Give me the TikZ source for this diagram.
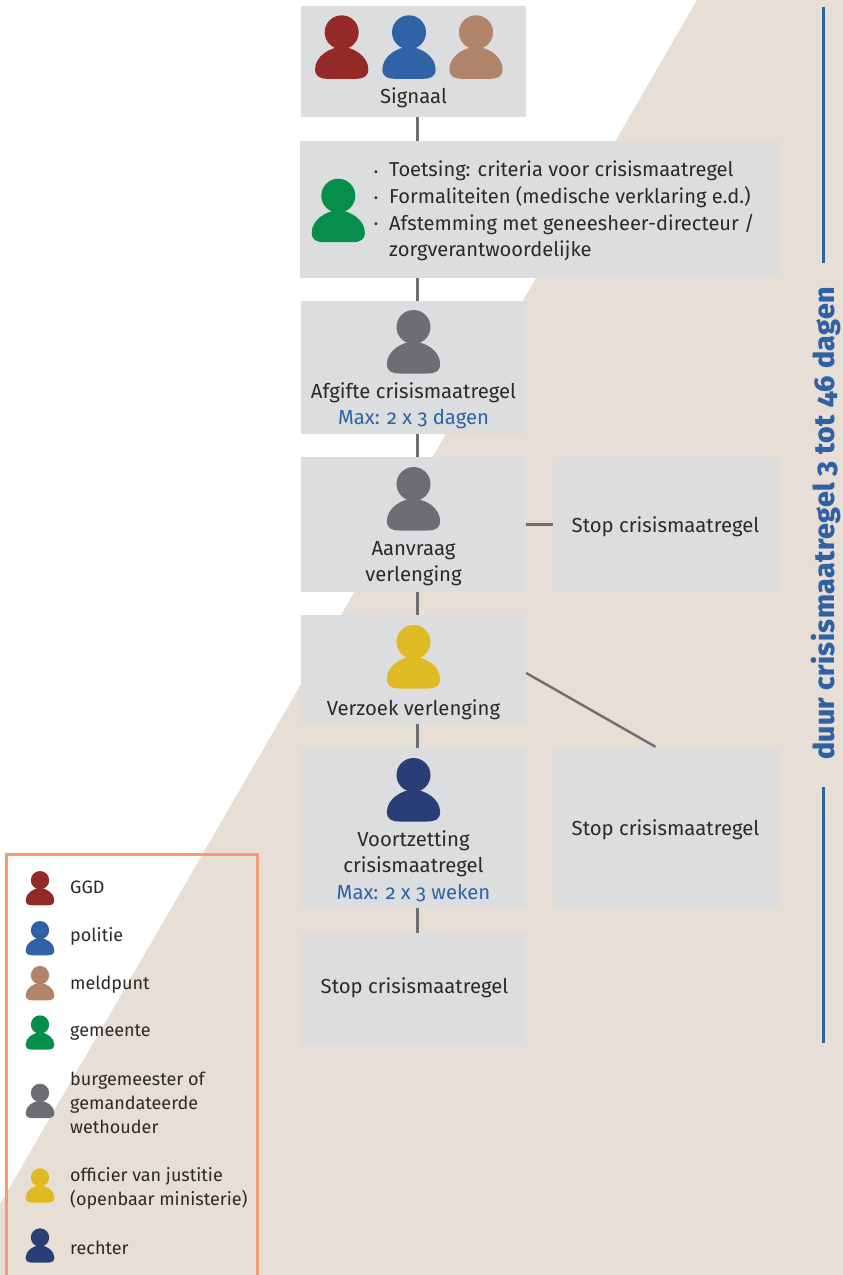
\documentclass[tikz,border=0pt]{standalone}
\usepackage{fontspec}
\setmainfont[Numbers=OldStyle]{Fira Sans}
\newfontfamily\durfont[Numbers=OldStyle,LetterSpace=1.5]{Fira Sans ExtraBold}
\usetikzlibrary{positioning}
\definecolor{bgtan}{HTML}{E7DED6}
\definecolor{boxgray}{HTML}{DCDDDF}
\definecolor{linegray}{HTML}{6D6E71}
\definecolor{txtblue}{HTML}{2E62A5}
\definecolor{ink}{HTML}{2B2A29}
\definecolor{legendor}{HTML}{F79B72}
\definecolor{ggdred}{HTML}{942A28}
\definecolor{polblue}{HTML}{2F63A5}
\definecolor{meldbrown}{HTML}{AF8468}
\definecolor{gemgreen}{HTML}{068E4B}
\definecolor{burggray}{HTML}{6D6E71}
\definecolor{ovjyellow}{HTML}{E0BA22}
\definecolor{rechnavy}{HTML}{293E77}
\tikzset{
  box/.style={fill=boxgray,minimum width=225pt,inner sep=0pt},
  boxtext/.style={inner sep=0pt,text=ink,font=\fontsize{20.3}{26}\selectfont,align=center},
  link/.style={draw=linegray,line width=2.4pt},
  dur/.style={draw=txtblue,line width=2.8pt},
  legtext/.style={text=ink,font=\fontsize{18}{24}\selectfont,align=left,anchor=west,inner sep=0pt},
  person/.pic={
    \fill circle (17);
    \fill (-26.6,37) .. controls (-26.6,24) and (-12,15) .. (0,14.5)
      .. controls (12,15) and (26.6,24) .. (26.6,37)
      .. controls (26.6,44) and (22,46.5) .. (14,46.5) -- (-14,46.5)
      .. controls (-22,46.5) and (-26.6,44) .. (-26.6,37) -- cycle;
  }
}
\begin{document}
\begin{tikzpicture}[x=1pt,y=-1pt]
  \useasboundingbox (0,0) rectangle (843,1275);
  \fill[bgtan] (697,0) -- (843,0) -- (843,1275) -- (0,1275) -- (0,1204) -- cycle;
  \coordinate (spine) at (417.5,0);
  % boxes
  \node[box,minimum height=111pt] (signaal) at (413.5,61.5) {};
  \node[box,minimum width=478pt,minimum height=137pt] (check) at (539,209.5) {};
  \node[box,minimum height=133pt] (afgifte) at (413.5,367.5) {};
  \node[box,minimum height=135pt] (aanvraag) at (413.5,524.5) {};
  \node[box,minimum height=109pt] (verzoek) at (413.5,669.5) {};
  \node[box,minimum height=160pt] (voort) at (413.5,828) {};
  \node[box,minimum height=113pt] (stop3) at (413.5,989.5) {};
  \node[box,minimum height=135pt] (stop1) at (665.5,524.5) {};
  \node[box,minimum height=160pt] (stop2) at (665.5,827) {};
  % box texts
  \node[boxtext] (signaalt) at (413.5,98) {Signaal};
  \node[boxtext,font=\fontsize{20.1}{26.6}\selectfont,align=left,anchor=north west] (checkt) at (389,161) {Toetsing: criteria voor crisismaatregel\\Formaliteiten (medische verklaring e.d.)\\Afstemming met geneesheer-directeur /\\zorgverantwoordelijke};
  \foreach \name/\y in {b1/175,b2/201,b3/227}
    \node[boxtext] (\name) at (376,\y) {·};
  \node[boxtext] (afgiftet) at (413.5,393) {Afgifte crisismaatregel};
  \node[boxtext,text=txtblue] (afgiftem) at (413.5,419) {Max: 2 x 3 dagen};
  \node[boxtext] (aanvraagt) at (413.5,564) {Aanvraag\\verlenging};
  \node[boxtext] (verzoekt) at (413.5,710) {Verzoek verlenging};
  \node[boxtext] (voortt) at (413.5,854) {Voortzetting\\crisismaatregel};
  \node[boxtext,text=txtblue] (voortm) at (413.5,893) {Max: 2 x 3 weken};
  \node[boxtext] (stop1t) at (665.5,526.5) {Stop crisismaatregel};
  \node[boxtext] (stop2t) at (665.5,830) {Stop crisismaatregel};
  \node[boxtext] (stop3t) at (414.5,987.5) {Stop crisismaatregel};
  % connectors
  \foreach \from/\to in {signaal/check,check/afgifte,afgifte/aanvraag,aanvraag/verzoek,verzoek/voort,voort/stop3}
  \draw[link] (\from.south -| spine) -- (\to.north -| spine);
  \draw[link] (aanvraag) -- (stop1);
  \draw[link] ([yshift=-3.5pt]verzoek.east) -- ([xshift=-10pt]stop2.north);
  % figures
  \foreach \x/\y/\col in {341.7/32.3/ggdred,409/32.3/polblue,476/32.3/meldbrown,338.3/195.7/gemgreen,413.5/327/burggray,413.5/484/burggray,413.5/642/ovjyellow,413.5/775/rechnavy}
    \pic[fill=\col] at (\x,\y) {person};
  % duration bar
  \node[rotate=90,anchor=base,text=txtblue,inner sep=0pt,font=\fontsize{28.5}{28.5}\durfont] (durtext) at (834,523.5) {duur crisismaatregel 3 tot 46 dagen};
  \coordinate (durtop) at (823.7,7);
  \coordinate (durbot) at (823.7,1043);
  \coordinate (durgapa) at (823.7,263);
  \coordinate (durgapb) at (823.7,787);
  \draw[dur] (durgapa) -- (durtop);
  \draw[dur] (durgapb) -- (durbot);
  % legend
  \draw[legendor,line width=3pt] (6,1275) -- (6,854) -- (257,854) -- (257,1275);
  \foreach \y/\col in {880.2/ggdred,930.2/polblue,975.2/meldbrown,1024.5/gemgreen,1092.9/burggray,1177.5/ovjyellow,1237.5/rechnavy}
    \pic[fill=\col,scale=.54] at (40,\y) {person};
  \node[legtext] (leg1) at (70,887) {GGD};
  \node[legtext] (leg2) at (70,936) {politie};
  \node[legtext] (leg3) at (70,985) {meldpunt};
  \node[legtext] (leg4) at (70,1032) {gemeente};
  \node[legtext] (leg5) at (70,1103) {burgemeester of\\gemandateerde\\wethouder};
  \node[legtext] (leg6) at (70,1188) {officier van justitie\\(openbaar ministerie)};
  \node[legtext] (leg7) at (70,1248) {rechter};
\end{tikzpicture}
\end{document}
